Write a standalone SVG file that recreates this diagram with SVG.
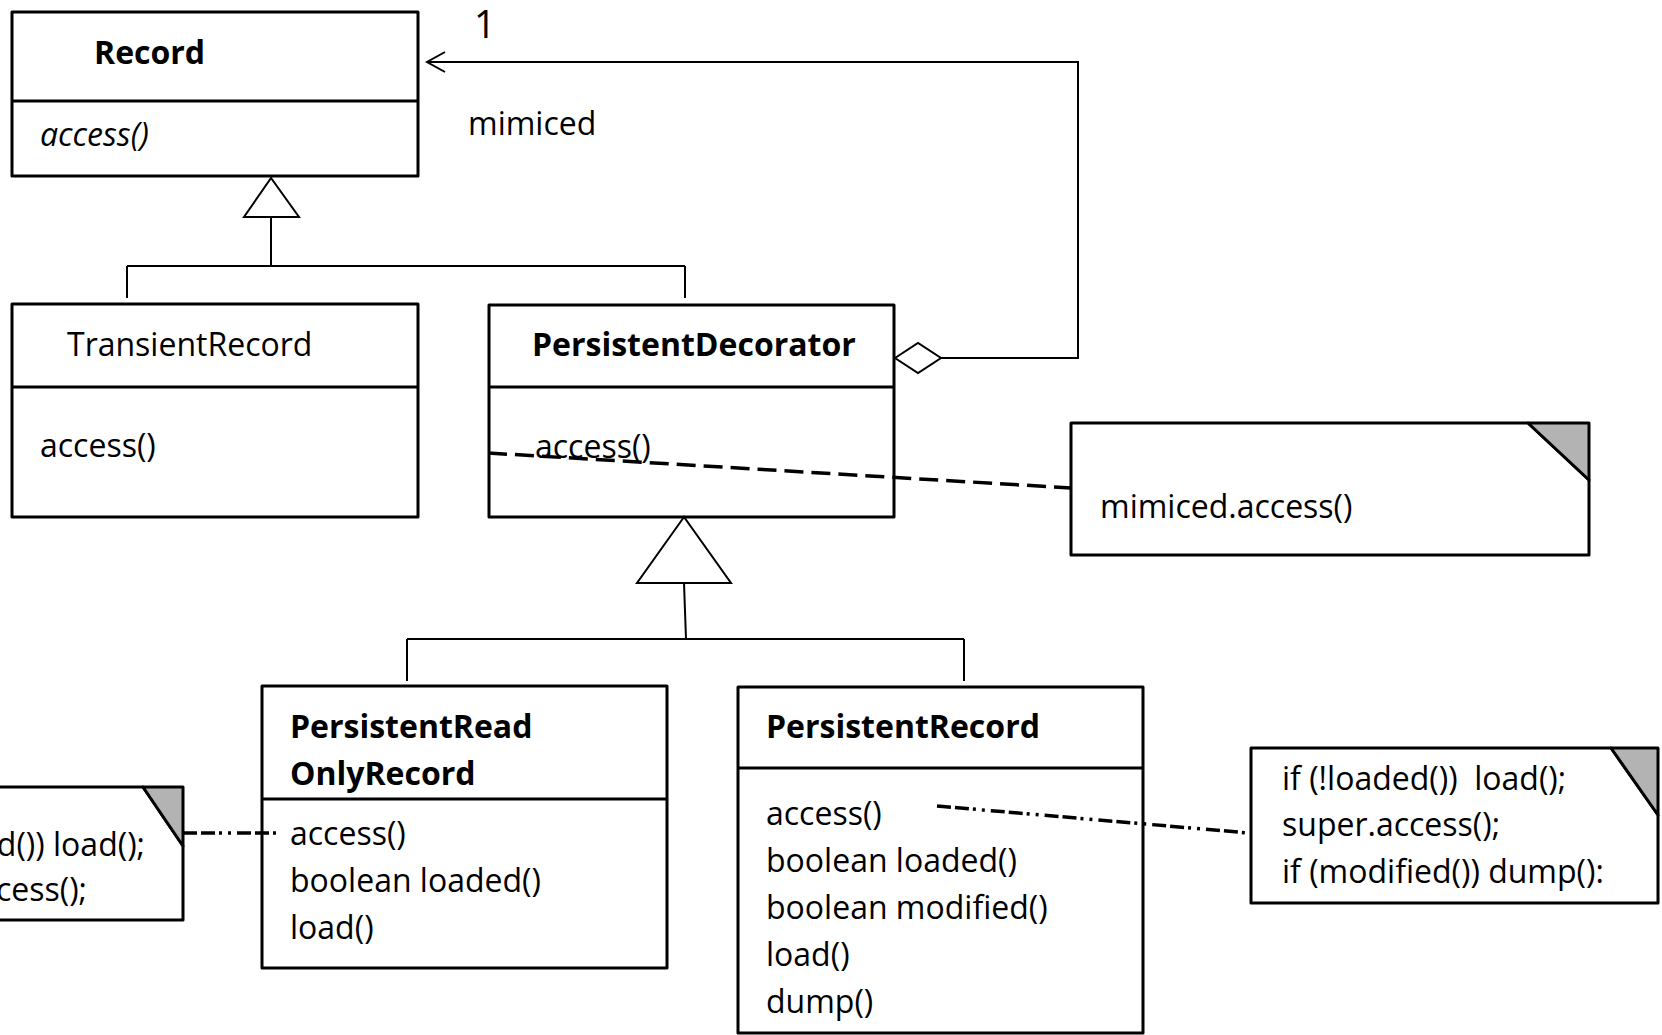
<svg xmlns="http://www.w3.org/2000/svg" width="1662" height="1035" viewBox="0 0 1662 1035">
  <style>
    text { font-family: "Open Sans", "Noto Sans", "DejaVu Sans", sans-serif; font-size: 32px; fill: #000; }
    .b { font-weight: bold; }
    .i { font-style: italic; }
    .box { fill: #fff; stroke: #000; stroke-width: 3; stroke-linejoin: round; }
    .sep { stroke: #000; stroke-width: 3; fill: none; }
    .ln { stroke: #000; stroke-width: 2; fill: none; }
    .tri { fill: #fff; stroke: #000; stroke-width: 2; stroke-linejoin: miter; }
    .fold { fill: #b3b3b3; stroke: #000; stroke-width: 3; stroke-linejoin: round; }
    .dash { stroke: #000; stroke-width: 3.5; fill: none; stroke-dasharray: 19 8; }
    .dashdot { stroke: #000; stroke-width: 3.5; fill: none; stroke-dasharray: 14 4 14 4 3 6 3 6; }
  </style>

  <g id="record">
    <rect class="box" x="12" y="12" width="406" height="164"/>
    <line class="sep" x1="12" y1="101" x2="418" y2="101"/>
    <text class="b" x="94" y="64">Record</text>
    <text class="i" x="40" y="146">access()</text>
  </g>

  <g id="transient-record">
    <rect class="box" x="12" y="304" width="406" height="213"/>
    <line class="sep" x1="12" y1="387" x2="418" y2="387"/>
    <text x="67" y="356">TransientRecord</text>
    <text x="40" y="457">access()</text>
  </g>

  <g id="persistent-decorator">
    <rect class="box" x="489" y="305" width="405" height="212"/>
    <line class="sep" x1="489" y1="387" x2="894" y2="387"/>
    <text class="b" x="532" y="356">PersistentDecorator</text>
    <text x="535" y="458">access()</text>
  </g>

  <g id="note-decorator">
    <path class="box" d="M1071,423 H1528 L1589,480 V555 H1071 Z"/>
    <path class="fold" d="M1528,423 H1589 V480 Z"/>
    <text x="1100" y="518">mimiced.access()</text>
  </g>

  <g id="persistent-read-only-record">
    <rect class="box" x="262" y="686" width="405" height="282"/>
    <line class="sep" x1="262" y1="799" x2="667" y2="799"/>
    <text class="b" x="290" y="738">PersistentRead</text>
    <text class="b" x="290" y="785">OnlyRecord</text>
    <text x="290" y="845">access()</text>
    <text x="290" y="892">boolean loaded()</text>
    <text x="290" y="939">load()</text>
  </g>

  <g id="note-read-only">
    <path class="box" d="M-10,787 H143 L183,846 V920 H-10 Z"/>
    <path class="fold" d="M143,787 H183 V846 Z"/>
    <text x="145" y="856" text-anchor="end">d()) load();</text>
    <text x="87" y="901" text-anchor="end">cess();</text>
  </g>

  <g id="persistent-record">
    <rect class="box" x="738" y="687" width="405" height="346"/>
    <line class="sep" x1="738" y1="768" x2="1143" y2="768"/>
    <text class="b" x="766" y="738">PersistentRecord</text>
    <text x="766" y="825">access()</text>
    <text x="766" y="872">boolean loaded()</text>
    <text x="766" y="919">boolean modified()</text>
    <text x="766" y="966">load()</text>
    <text x="766" y="1013">dump()</text>
  </g>

  <g id="note-persistent">
    <path class="box" d="M1251,748 H1611 L1658,815 V903 H1251 Z"/>
    <path class="fold" d="M1611,748 H1658 V815 Z"/>
    <text x="1282" y="790" xml:space="preserve">if (!loaded())  load();</text>
    <text x="1282" y="836">super.access();</text>
    <text x="1282" y="883">if (modified()) dump():</text>
  </g>

  <!-- connectors, drawn last so the note anchors run over the class boxes -->
  <g id="connectors">
    <!-- generalization: TransientRecord and PersistentDecorator extend Record -->
    <polygon class="tri" points="271,178 244,217 299,217"/>
    <path class="ln" d="M271,217 V267 M127,266 H685 M127,266 V298 M685,266 V298"/>
    <!-- generalization: PersistentReadOnlyRecord and PersistentRecord extend PersistentDecorator -->
    <polygon class="tri" points="684,517 637,583 731,583"/>
    <path class="ln" d="M684,583 L686,639 M407,639 H964 M407,639 V681 M964,639 V681"/>
    <!-- aggregation: PersistentDecorator holds the mimiced Record -->
    <polyline class="ln" points="941,358 1078,358 1078,62 427,62"/>
    <polygon class="tri" points="895,358 918,343 941,358 918,373"/>
    <polyline class="ln" points="445,52 427,62 445,72"/>
    <text x="474" y="38" style="font-size:38px">1</text>
    <text x="468" y="135">mimiced</text>
    <!-- note anchors -->
    <line class="dash" x1="488" y1="453" x2="1071" y2="488"/>
    <line class="dashdot" x1="183" y1="833" x2="278" y2="833"/>
    <line class="dashdot" x1="937" y1="806" x2="1249" y2="833"/>
  </g>
</svg>
